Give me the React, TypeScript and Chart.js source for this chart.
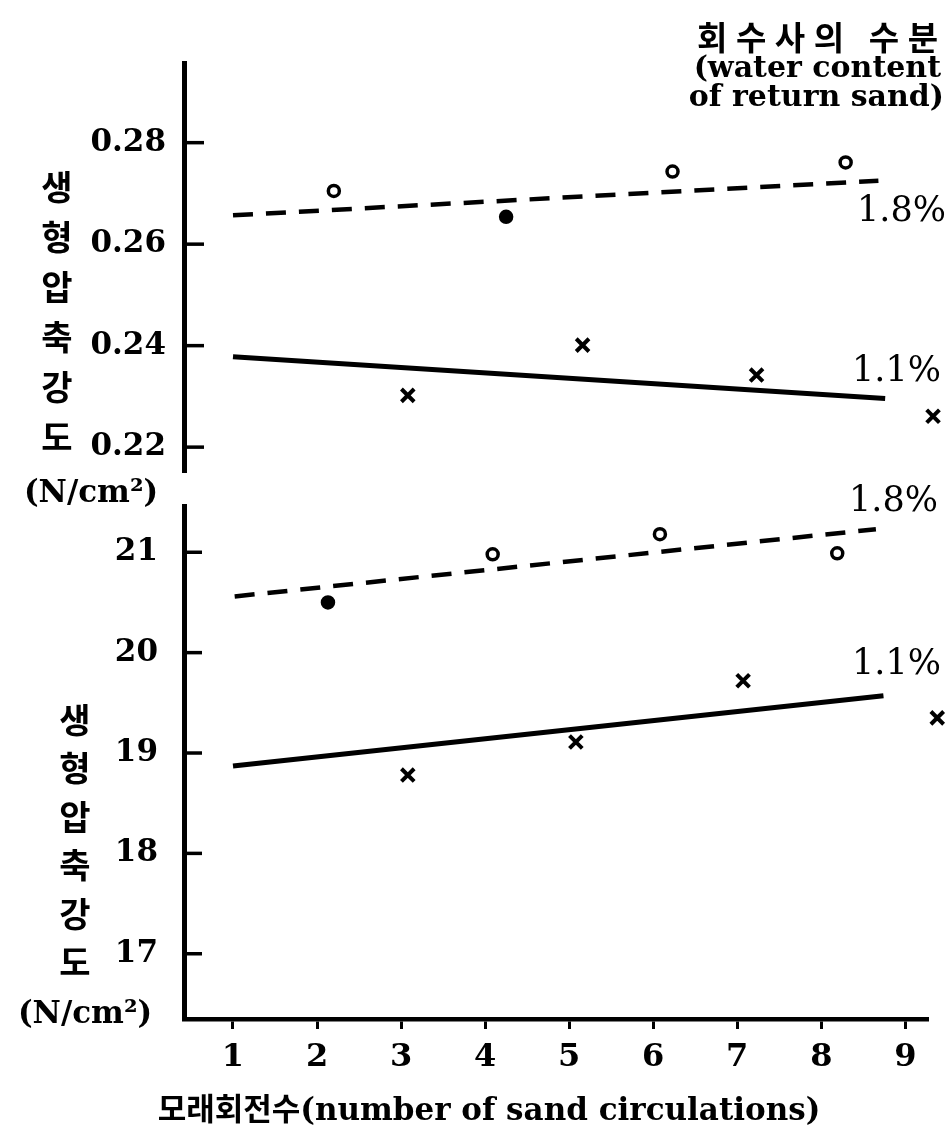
import React, { useEffect, useRef } from 'react';
import { Chart, registerables } from 'chart.js';

Chart.register(...registerables);

// ---------- shared x axis ----------
const X_TICKS = [1, 2, 3, 4, 5, 6, 7, 8, 9];
const X_MIN = 0.417;
const X_MAX = 9.27;

// ---------- top panel (0.22 .. 0.28) ----------
const TOP_Y_TICKS = [0.22, 0.24, 0.26, 0.28];
const TOP_Y_MIN = 0.2151;
const TOP_Y_MAX = 0.2957;

const TOP_W18_X = [2.2, 4.25, 6.23, 8.29];
const TOP_W18_Y = [0.2705, 0.2654, 0.2743, 0.2761];
const TOP_W18_FILLED = [false, true, false, false];
const TOP_W18_FIT_X = [1.0, 8.68];
const TOP_W18_FIT_Y = [0.2657, 0.2725];

const TOP_W11_X = [3.08, 5.16, 7.23, 9.33];
const TOP_W11_Y = [0.2302, 0.2401, 0.2342, 0.2261];
const TOP_W11_FIT_X = [1.0, 8.76];
const TOP_W11_FIT_Y = [0.2378, 0.2296];

// ---------- bottom panel (17 .. 21) ----------
const BOT_Y_TICKS = [17, 18, 19, 20, 21];
const BOT_Y_MIN = 16.35;
const BOT_Y_MAX = 21.455;

const BOT_W18_X = [2.13, 4.09, 6.08, 8.19];
const BOT_W18_Y = [20.5, 20.98, 21.18, 20.99];
const BOT_W18_FILLED = [true, false, false, false];
const BOT_W18_FIT_X = [1.02, 8.65];
const BOT_W18_FIT_Y = [20.56, 21.23];

const BOT_W11_X = [3.08, 5.08, 7.07, 9.38];
const BOT_W11_Y = [18.78, 19.11, 19.72, 19.35];
const BOT_W11_FIT_X = [1.0, 8.74];
const BOT_W11_FIT_Y = [18.87, 19.57];

// ---------- texts ----------
const Y_TITLE_CHARS = ['생', '형', '압', '축', '강', '도'];
const UNIT_TEXT = '(N/cm²)';
const LEGEND_TITLE = '회수사의 수분';
const LEGEND_SUB1 = '(water content';
const LEGEND_SUB2 = 'of return sand)';
const LABEL_18 = '1.8%';
const LABEL_11 = '1.1%';
const X_TITLE = '모래회전수(number of sand circulations)';

const SERIF = "'DejaVu Serif', 'Noto Sans CJK KR', serif";
const KR = "'Noto Sans CJK KR', sans-serif";

const W = 949;
const H = 1139;
const PLOT_LEFT = 184;
const PLOT_RIGHT = 928;

const TOP_CANVAS_TOP = 0;
const TOP_CANVAS_H = 520;
const TOP_AREA_TOP = 63;
const TOP_AREA_BOTTOM = 472;

const BOT_CANVAS_TOP = 470;
const BOT_CANVAS_H = H - BOT_CANVAS_TOP;
const BOT_AREA_TOP = 503;
const BOT_AREA_BOTTOM = 1019;

const pts = (xs: number[], ys: number[]) => xs.map((x, i) => ({ x, y: ys[i] }));

type TextItem = {
  text: string;
  x: number;
  y: number;
  font: string;
  align?: CanvasTextAlign;
  fitWidth?: number;
};

const textPlugin = (items: TextItem[], offsetY: number) => ({
  id: 'pageTexts',
  afterDraw(chart: any) {
    const ctx = chart.ctx as CanvasRenderingContext2D;
    ctx.save();
    ctx.fillStyle = '#000';
    ctx.textBaseline = 'middle';
    items.forEach((it) => {
      ctx.font = it.font;
      const y = it.y - offsetY;
      if (it.fitWidth) {
        const chars = Array.from(it.text);
        const widths = chars.map((c) => ctx.measureText(c).width);
        const sum = widths.reduce((a, b) => a + b, 0);
        const gap = (it.fitWidth - sum) / Math.max(1, chars.length - 1);
        let cx = it.x;
        ctx.textAlign = 'left';
        chars.forEach((c, i) => {
          ctx.fillText(c, cx, y);
          cx += widths[i] + gap;
        });
      } else {
        ctx.textAlign = it.align || 'left';
        ctx.fillText(it.text, it.x, y);
      }
    });
    ctx.restore();
  },
});

const inwardTicks = (len: number, width: number) => ({
  id: 'inwardTicks',
  afterDraw(chart: any) {
    const ys = chart.scales.y;
    const ctx = chart.ctx as CanvasRenderingContext2D;
    ctx.save();
    ctx.strokeStyle = '#000';
    ctx.lineWidth = width;
    ys.ticks.forEach((t: any) => {
      const py = ys.getPixelForValue(t.value);
      ctx.beginPath();
      ctx.moveTo(ys.right, py);
      ctx.lineTo(ys.right + len, py);
      ctx.stroke();
    });
    ctx.restore();
  },
});

const makeDatasets = (
  x18: number[], y18: number[], filled: boolean[],
  fx18: number[], fy18: number[],
  x11: number[], y11: number[],
  fx11: number[], fy11: number[],
) => [
  {
    label: '1.8% points',
    data: pts(x18, y18),
    pointStyle: 'circle',
    pointRadius: 5.5,
    pointBorderWidth: 3.5,
    pointBorderColor: '#000',
    pointBackgroundColor: filled.map((f) => (f ? '#000' : '#fff')),
    showLine: false,
    clip: false,
  },
  {
    label: '1.1% points',
    data: pts(x11, y11),
    pointStyle: 'crossRot',
    pointRadius: 9,
    pointBorderWidth: 4,
    pointBorderColor: '#000',
    showLine: false,
    clip: false,
  },
  {
    label: '1.8% trend',
    data: pts(fx18, fy18),
    showLine: true,
    borderColor: '#000',
    borderWidth: 4.5,
    borderDash: [20, 13],
    pointRadius: 0,
    clip: false,
  },
  {
    label: '1.1% trend',
    data: pts(fx11, fy11),
    showLine: true,
    borderColor: '#000',
    borderWidth: 5,
    pointRadius: 0,
    clip: false,
  },
];

export default function App() {
  const topRef = useRef<HTMLCanvasElement | null>(null);
  const botRef = useRef<HTMLCanvasElement | null>(null);

  useEffect(() => {
    const tickFont = { family: SERIF, size: 31, weight: 'bold' as const };

    const topTexts: TextItem[] = [
      { text: LEGEND_TITLE, x: 697, y: 37, font: `700 33px ${KR}`, fitWidth: 241 },
      { text: LEGEND_SUB1, x: 941, y: 69, font: `700 30px ${SERIF}`, align: 'right' },
      { text: LEGEND_SUB2, x: 944, y: 98, font: `700 30px ${SERIF}`, align: 'right' },
      ...Y_TITLE_CHARS.map((c, i) => ({
        text: c, x: 57, y: 187 + i * 50, font: `700 34px ${KR}`, align: 'center' as CanvasTextAlign,
      })),
      { text: UNIT_TEXT, x: 91, y: 494, font: `700 31px ${SERIF}`, align: 'center' },
      { text: LABEL_18, x: 857, y: 212, font: `35px ${SERIF}` },
      { text: LABEL_11, x: 852, y: 372, font: `35px ${SERIF}` },
    ];

    const botTexts: TextItem[] = [
      { text: LABEL_18, x: 849, y: 502, font: `35px ${SERIF}` },
      { text: LABEL_11, x: 852, y: 665, font: `35px ${SERIF}` },
      ...Y_TITLE_CHARS.map((c, i) => ({
        text: c, x: 75, y: 720 + i * 48.4, font: `700 34px ${KR}`, align: 'center' as CanvasTextAlign,
      })),
      { text: UNIT_TEXT, x: 85, y: 1015, font: `700 31px ${SERIF}`, align: 'center' },
      { text: X_TITLE, x: 489, y: 1112, font: `700 31px ${SERIF}`, align: 'center' },
    ];

    const top = new Chart(topRef.current as HTMLCanvasElement, {
      type: 'scatter',
      data: {
        datasets: makeDatasets(
          TOP_W18_X, TOP_W18_Y, TOP_W18_FILLED, TOP_W18_FIT_X, TOP_W18_FIT_Y,
          TOP_W11_X, TOP_W11_Y, TOP_W11_FIT_X, TOP_W11_FIT_Y,
        ) as any,
      },
      options: {
        animation: false,
        responsive: false,
        devicePixelRatio: 1,
        layout: {
          padding: {
            left: 0,
            right: W - PLOT_RIGHT,
            top: TOP_AREA_TOP - TOP_CANVAS_TOP,
            bottom: TOP_CANVAS_TOP + TOP_CANVAS_H - TOP_AREA_BOTTOM,
          },
        },
        plugins: { legend: { display: false }, tooltip: { enabled: false } },
        scales: {
          x: {
            type: 'linear',
            display: false,
            min: X_MIN,
            max: X_MAX,
          },
          y: {
            type: 'linear',
            min: TOP_Y_MIN,
            max: TOP_Y_MAX,
            afterFit: (s: any) => { s.width = PLOT_LEFT; },
            afterBuildTicks: (s: any) => { s.ticks = TOP_Y_TICKS.map((v) => ({ value: v })); },
            grid: { display: false },
            border: { display: true, color: '#000', width: 5 },
            ticks: {
              color: '#000',
              font: tickFont,
              padding: 10,
              callback: (v: any) => Number(v).toFixed(2),
            },
          },
        },
      },
      plugins: [inwardTicks(20, 3.5), textPlugin(topTexts, TOP_CANVAS_TOP)],
    });

    const bot = new Chart(botRef.current as HTMLCanvasElement, {
      type: 'scatter',
      data: {
        datasets: makeDatasets(
          BOT_W18_X, BOT_W18_Y, BOT_W18_FILLED, BOT_W18_FIT_X, BOT_W18_FIT_Y,
          BOT_W11_X, BOT_W11_Y, BOT_W11_FIT_X, BOT_W11_FIT_Y,
        ) as any,
      },
      options: {
        animation: false,
        responsive: false,
        devicePixelRatio: 1,
        layout: {
          padding: {
            left: 0,
            right: W - PLOT_RIGHT,
            top: BOT_AREA_TOP - BOT_CANVAS_TOP,
            bottom: 0,
          },
        },
        plugins: { legend: { display: false }, tooltip: { enabled: false } },
        scales: {
          x: {
            type: 'linear',
            min: X_MIN,
            max: X_MAX,
            afterFit: (s: any) => { s.height = BOT_CANVAS_TOP + BOT_CANVAS_H - BOT_AREA_BOTTOM; },
            afterBuildTicks: (s: any) => { s.ticks = X_TICKS.map((v) => ({ value: v })); },
            grid: {
              display: true,
              drawOnChartArea: false,
              drawTicks: true,
              tickLength: 10,
              tickWidth: 3,
              tickColor: '#000',
            },
            border: { display: true, color: '#000', width: 4.5 },
            ticks: {
              color: '#000',
              font: { family: SERIF, size: 32, weight: 'bold' as const },
              padding: 9,
              maxRotation: 0,
              autoSkip: false,
              callback: (v: any) => String(v),
            },
          },
          y: {
            type: 'linear',
            min: BOT_Y_MIN,
            max: BOT_Y_MAX,
            afterFit: (s: any) => { s.width = PLOT_LEFT; },
            afterBuildTicks: (s: any) => { s.ticks = BOT_Y_TICKS.map((v) => ({ value: v })); },
            grid: { display: false },
            border: { display: true, color: '#000', width: 5 },
            ticks: {
              color: '#000',
              font: tickFont,
              padding: 18,
              callback: (v: any) => String(v),
            },
          },
        },
      },
      plugins: [inwardTicks(18, 3.5), textPlugin(botTexts, BOT_CANVAS_TOP)],
    });

    return () => {
      top.destroy();
      bot.destroy();
    };
  }, []);

  return (
    <div style={{ position: 'absolute', left: 0, top: 0, width: W, height: H, background: '#fff', overflow: 'hidden' }}>
      <canvas
        ref={topRef}
        width={W}
        height={TOP_CANVAS_H}
        style={{ position: 'absolute', left: 0, top: TOP_CANVAS_TOP, width: W, height: TOP_CANVAS_H }}
      />
      <canvas
        ref={botRef}
        width={W}
        height={BOT_CANVAS_H}
        style={{ position: 'absolute', left: 0, top: BOT_CANVAS_TOP, width: W, height: BOT_CANVAS_H }}
      />
    </div>
  );
}
